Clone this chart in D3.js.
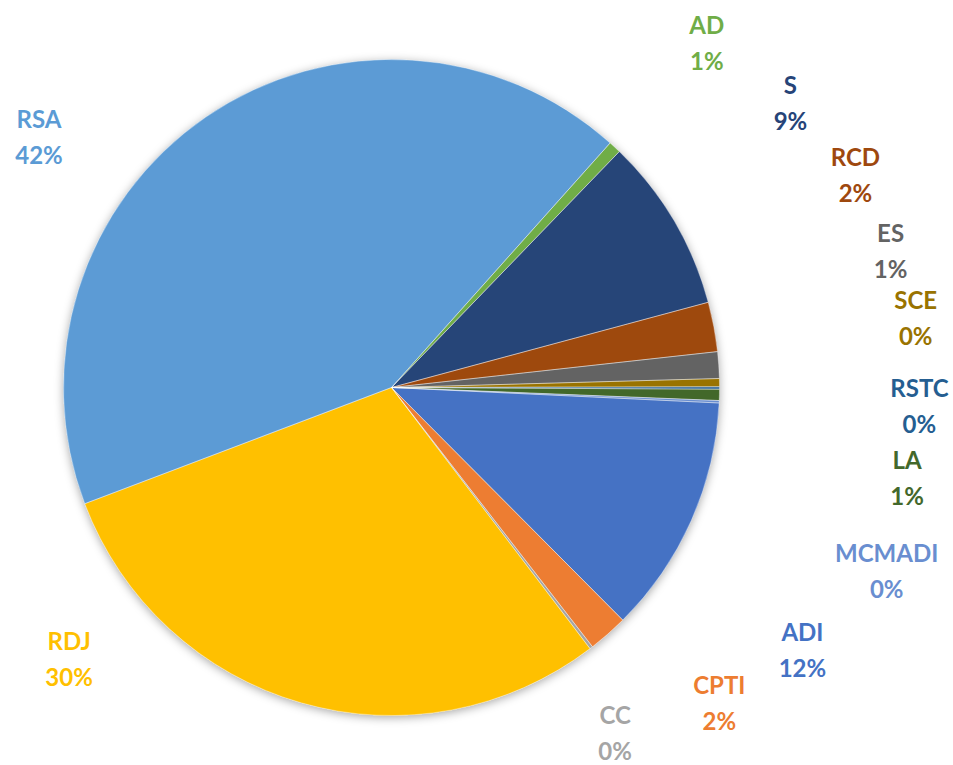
<!DOCTYPE html>
<html>
<head>
<meta charset="utf-8">
<script src="https://cdn.jsdelivr.net/npm/d3@7"></script>
<style>
  html, body { margin: 0; padding: 0; background: #ffffff; }
  svg { display: block; }
  .label { font-family: Lato, "Open Sans", sans-serif; font-weight: bold; font-size: 24px; }
</style>
</head>
<body>
<svg class="pie-chart" width="953" height="765"></svg>
<script>
// slices, clockwise from the RSA / AD boundary
const categories = ['AD', 'S', 'RCD', 'ES', 'SCE', 'RSTC', 'LA', 'MCMADI', 'ADI', 'CPTI', 'CC', 'RDJ', 'RSA']
const shares = [0.61, 8.6, 2.44, 1.31, 0.40, 0.12, 0.55, 0.12, 11.8, 1.96, 0.15, 29.6, 42.4]
const sliceColors = ['#70AD47', '#264478', '#9E480E', '#636363', '#997300', '#255E91', '#43682B',
                     '#698ED0', '#4472C4', '#ED7D31', '#A5A5A5', '#FFC000', '#5B9BD5']

// label placement (polar, degrees clockwise from 12 o'clock, px from centre)
const labelAngle = [41.7, 53.7, 64.5, 73.7, 81.5, 91.0, 99.0, 109.4, 121.7, 133.1, 146.4, 230.8, 306.4]
const labelDist = [474, 495, 514, 520, 530, 528, 522, 525, 483, 449, 404, 416, 438]

const cx = 391.5, cy = 387.5, radius = 328
const firstSliceAngle = 41.8

const svg = d3.select('.pie-chart')

const defs = svg.append('defs')
const shadow = defs.append('filter')
  .attr('id', 'pie-shadow')
  .attr('x', '-20%').attr('y', '-20%')
  .attr('width', '140%').attr('height', '140%')
shadow.append('feDropShadow')
  .attr('dx', 0)
  .attr('dy', 2)
  .attr('stdDeviation', 5)
  .attr('flood-color', '#000')
  .attr('flood-opacity', 0.35)

const rad = d => d * Math.PI / 180
const total = d3.sum(shares)

const pie = d3.pie()
  .sort(null)
  .value(d => d.value)
  .startAngle(rad(firstSliceAngle))
  .endAngle(rad(firstSliceAngle) + 2 * Math.PI)

const arc = d3.arc().innerRadius(0).outerRadius(radius)

const slices = categories.map((name, i) => ({ name: name, value: shares[i], color: sliceColors[i] }))

const pieGroup = svg.append('g')
  .attr('transform', `translate(${cx},${cy})`)

pieGroup.append('g')
  .attr('filter', 'url(#pie-shadow)')
  .selectAll('path')
  .data(pie(slices))
  .enter()
  .append('path')
  .attr('fill', d => d.data.color)
  .attr('d', arc)

// thin light separators between slices
pieGroup.append('g')
  .selectAll('path')
  .data(pie(slices))
  .enter()
  .append('path')
  .attr('fill', 'none')
  .attr('stroke', '#ffffff')
  .attr('stroke-width', 0.75)
  .attr('stroke-opacity', 0.45)
  .attr('d', arc)

const labels = pieGroup.append('g')
  .selectAll('text')
  .data(slices)
  .enter()
  .append('text')
  .attr('class', 'label')
  .attr('fill', d => d.color)
  .attr('text-anchor', 'middle')
  .attr('transform', (d, i) => {
    const a = rad(labelAngle[i])
    return `translate(${labelDist[i] * Math.sin(a)},${-labelDist[i] * Math.cos(a)})`
  })

labels.append('tspan')
  .attr('x', 0)
  .attr('y', 0)
  .text(d => d.name)

labels.append('tspan')
  .attr('x', 0)
  .attr('y', 36)
  .text(d => Math.round(d.value / total * 100) + '%')
</script>
</body>
</html>
